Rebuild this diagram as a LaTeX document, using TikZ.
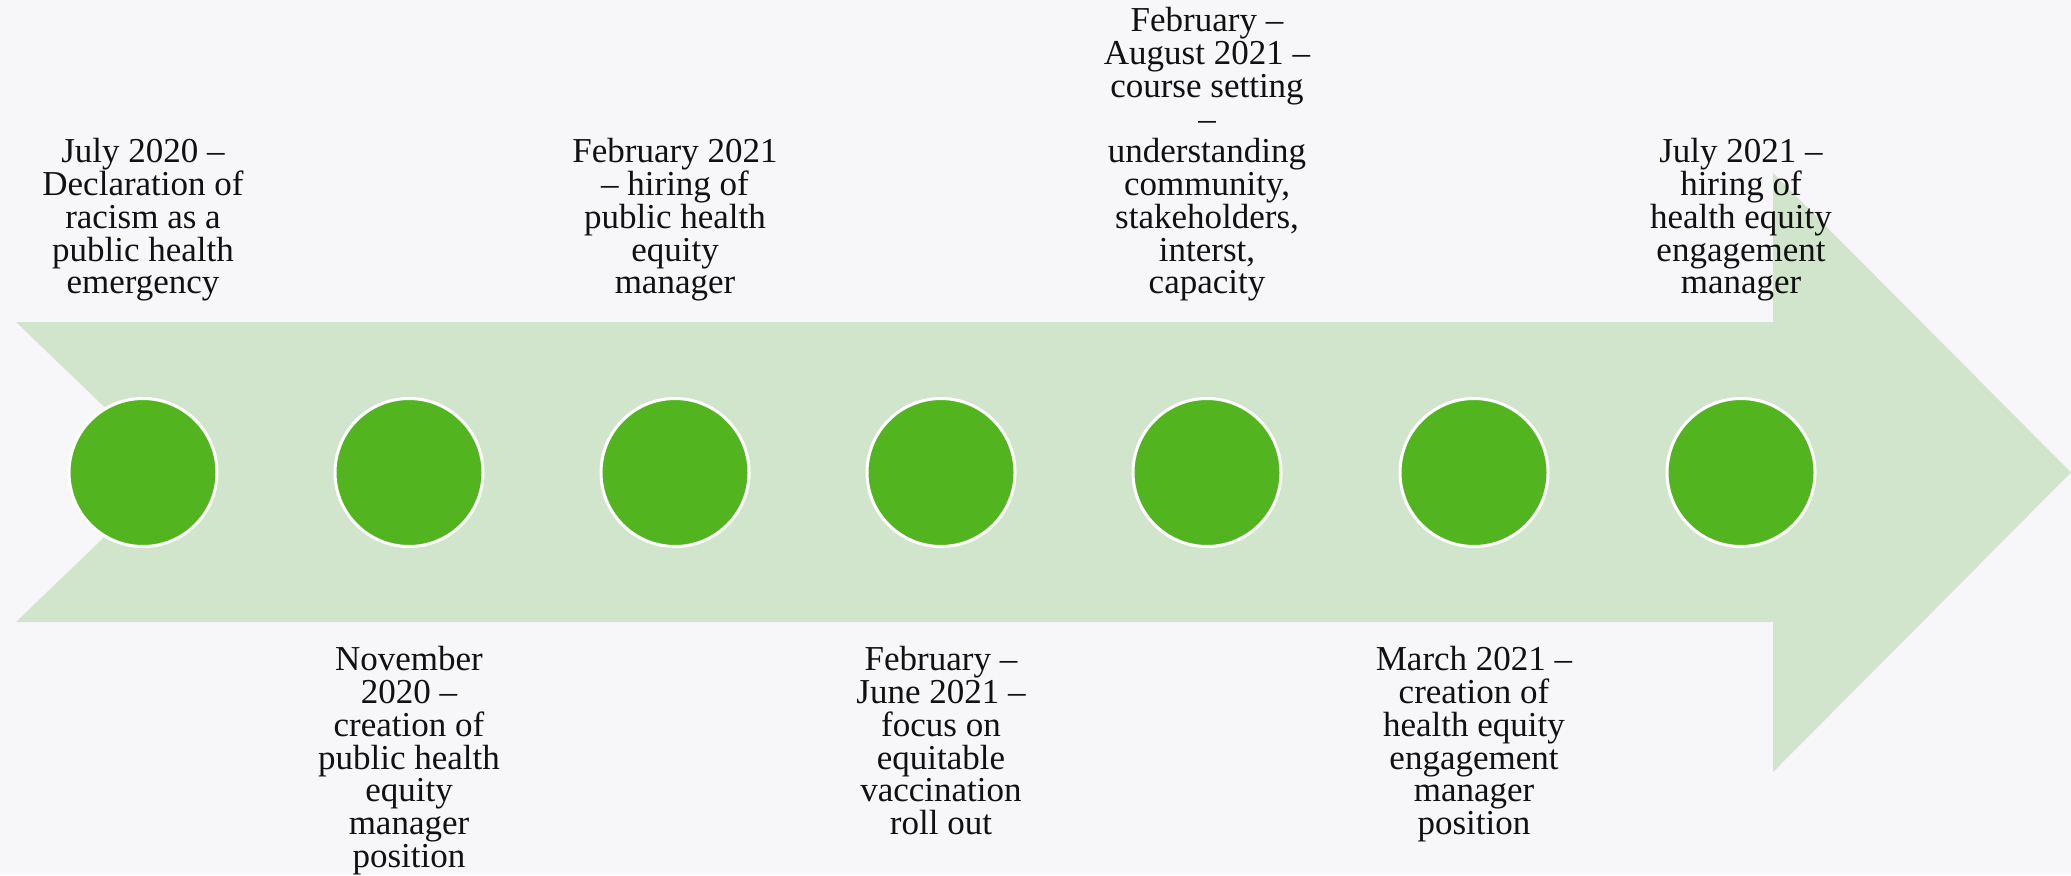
\documentclass[tikz,border=0pt]{standalone}
\usepackage{fontspec}
\setmainfont{Liberation Serif}
\definecolor{bgcol}{HTML}{F7F7F9}
\definecolor{arrowfill}{HTML}{D1E5CC}
\definecolor{dotgreen}{HTML}{52B520}
\definecolor{txt}{HTML}{111111}
\begin{document}
\begin{tikzpicture}[x=1pt,y=-1pt,
  dotnode/.style={circle, fill=dotgreen, draw=white, line width=3pt, minimum size=148pt, inner sep=0pt},
  lbl/.style={align=center, inner sep=0pt, text=txt, font=\fontsize{35}{32.75}\selectfont},
  toplabel/.style={lbl, anchor=south, text depth=0pt},
  botlabel/.style={lbl, anchor=north}]
\fill[bgcol] (0,0) rectangle (2071,875);
\useasboundingbox (0,0) rectangle (2071,875);
% arrow
\fill[arrowfill] (16,322) -- (1773,322) -- (1773,173) -- (2071,472.5) -- (1773,772) -- (1773,622) -- (16,622) -- (172,472) -- cycle;
% dots
\foreach \i/\x in {1/143,2/409,3/675,4/941,5/1207,6/1474,7/1741}{
  \node[dotnode] (d\i) at (\x,472.5) {};
}
% top labels
\node[toplabel] (t1) at (143,294) {July 2020 –\\Declaration of\\racism as a\\public health\\emergency};
\node[toplabel] (t3) at (675,294) {February 2021\\– hiring of\\public health\\equity\\manager};
\node[toplabel] (t5) at (1207,294) {February –\\August 2021 –\\course setting\\–\\understanding\\community,\\stakeholders,\\interst,\\capacity};
\node[toplabel] (t7) at (1741,294) {July 2021 –\\hiring of\\health equity\\engagement\\manager};
% bottom labels
\node[botlabel] (b2) at (409,646.5) {November\\2020 –\\creation of\\public health\\equity\\manager\\position};
\node[botlabel] (b4) at (941,646.5) {February –\\June 2021 –\\focus on\\equitable\\vaccination\\roll out};
\node[botlabel] (b6) at (1474,646.5) {March 2021 –\\creation of\\health equity\\engagement\\manager\\position};
\end{tikzpicture}
\end{document}
